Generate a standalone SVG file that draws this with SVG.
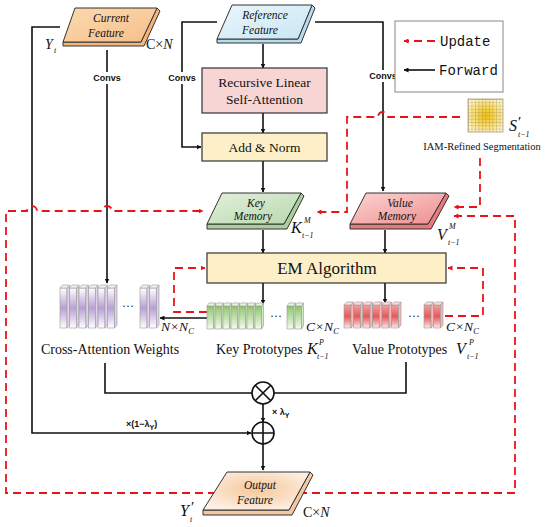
<svg xmlns="http://www.w3.org/2000/svg" width="550" height="527" viewBox="0 0 550 527">
<defs>
<style>
.ser{font-family:"Liberation Serif","Times New Roman",serif;fill:#111}
.it{font-style:italic}
.sm{font-size:8px}
.conv{font-family:"Liberation Sans",Arial,sans-serif;font-weight:bold;font-size:9px;fill:#111}
.blk{fill:none;stroke:#111;stroke-width:1.6}
.red{fill:none;stroke:#e8141a;stroke-width:1.8;stroke-dasharray:8,5}
.box{stroke:#333;stroke-width:1.2}
.face{stroke:#333;stroke-width:1}
.bar{stroke:#999;stroke-width:0.6}
.mono{font-family:"Liberation Mono","Courier New",monospace;font-size:14px;fill:#111}
</style>
<marker id="ab" viewBox="0 0 10 10" refX="9" refY="5" markerWidth="5" markerHeight="5" orient="auto-start-reverse" markerUnits="userSpaceOnUse"><path d="M0,0 L10,5 L0,10 z" fill="#111"/></marker>
<marker id="ar" viewBox="0 0 10 10" refX="9" refY="5" markerWidth="5" markerHeight="5" orient="auto-start-reverse" markerUnits="userSpaceOnUse"><path d="M0,0 L10,5 L0,10 z" fill="#e8141a"/></marker>
<linearGradient id="gCur" x1="0" y1="0" x2="1" y2="1"><stop offset="0" stop-color="#fbd9b0"/><stop offset="1" stop-color="#f6c08a"/></linearGradient>
<linearGradient id="gRef" x1="0" y1="0" x2="1" y2="1"><stop offset="0" stop-color="#eaf6fc"/><stop offset="1" stop-color="#c9e6f3"/></linearGradient>
<linearGradient id="gKey" x1="0" y1="0" x2="1" y2="1"><stop offset="0" stop-color="#e2f0dc"/><stop offset="1" stop-color="#b7d8ad"/></linearGradient>
<linearGradient id="gVal" x1="0" y1="0" x2="1" y2="1"><stop offset="0" stop-color="#fbd3d3"/><stop offset="1" stop-color="#ef8f8f"/></linearGradient>
<radialGradient id="gOut" cx="0.5" cy="0.45" r="0.6"><stop offset="0" stop-color="#f6c79a"/><stop offset="1" stop-color="#fdf0e4"/></radialGradient>
<radialGradient id="gGrid" cx="0.5" cy="0.5" r="0.6"><stop offset="0" stop-color="#f2c000"/><stop offset="1" stop-color="#fff6cc"/></radialGradient>
<pattern id="pGrid" x="468" y="99" width="3.5" height="3.3" patternUnits="userSpaceOnUse"><path d="M0,0 H3.5 M0,0 V3.3" stroke="#8c7a50" stroke-width="0.5" fill="none"/></pattern>
<linearGradient id="gPur" x1="0" y1="0" x2="0" y2="1"><stop offset="0" stop-color="#ffffff"/><stop offset="0.5" stop-color="#b9a0d4"/><stop offset="1" stop-color="#ffffff"/></linearGradient>
<linearGradient id="gGrn" x1="0" y1="0" x2="0" y2="1"><stop offset="0" stop-color="#8cc56a"/><stop offset="1" stop-color="#f4faee"/></linearGradient>
<linearGradient id="gRed" x1="0" y1="0" x2="0" y2="1"><stop offset="0" stop-color="#f6a0a0"/><stop offset="0.5" stop-color="#e25a5a"/><stop offset="1" stop-color="#fde6e6"/></linearGradient>
<g id="barP"><rect class="bar" x="0" y="3" width="7" height="40" fill="url(#gPur)"/><path class="bar" d="M7,3 L9.5,0 V40 L7,43 z" fill="#ddd3ea"/><path class="bar" d="M0,3 L2.5,0 H9.5 L7,3 z" fill="#f4f0f8"/></g>
<g id="barG"><rect class="bar" x="0" y="3" width="6.5" height="23" fill="url(#gGrn)"/><path class="bar" d="M6.5,3 L8.5,0 V23 L6.5,26 z" fill="#cfe6c0"/><path class="bar" d="M0,3 L2,0 H8.5 L6.5,3 z" fill="#e8f4e0"/></g>
<g id="barR"><rect class="bar" x="0" y="3" width="7" height="23" fill="url(#gRed)"/><path class="bar" d="M7,3 L9.5,0 V23 L7,26 z" fill="#f2b8b8"/><path class="bar" d="M0,3 L2.5,0 H9.5 L7,3 z" fill="#fadcdc"/></g>
</defs>
<rect width="550" height="527" fill="#fff"/>

<g id="connectors">
<path class="blk" d="M60,27 H32 V433 H251" marker-end="url(#ab)"/>
<path class="blk" d="M107,50 V283" marker-end="url(#ab)"/>
<path class="blk" d="M217,22 H182 V147 H201" marker-end="url(#ab)"/>
<path class="blk" d="M315,22 H383 V191" marker-end="url(#ab)"/>
<path class="blk" d="M263,44 V68" marker-end="url(#ab)"/>
<path class="blk" d="M263,113 V133" marker-end="url(#ab)"/>
<path class="blk" d="M263,161 V192" marker-end="url(#ab)"/>
<path class="blk" d="M263,230 V253" marker-end="url(#ab)"/>
<path class="blk" d="M385,230 V253" marker-end="url(#ab)"/>
<path class="blk" d="M263,283 V304" marker-end="url(#ab)"/>
<path class="blk" d="M385,283 V303" marker-end="url(#ab)"/>
<path class="blk" d="M207,318 H160" marker-end="url(#ab)"/>
<path class="blk" d="M105,363 V393 H252"/>
<path class="blk" d="M406,362 V393 H274"/>
<path class="blk" d="M263,404 V422" marker-end="url(#ab)"/>
<path class="blk" d="M263,444 V470" marker-end="url(#ab)"/>
<path class="red" d="M460,117 H388 A5,5 0 0 0 378,117 H347 V212 H317" marker-end="url(#ar)"/>
<path class="red" d="M480,158 V207 H454" marker-end="url(#ar)"/>
<path class="red" d="M454,216 H515 V493 H6 V211 H27 A5,5 0 0 1 37,211 H102 A5,5 0 0 1 112,211 H203" marker-start="url(#ar)" marker-end="url(#ar)"/>
<path class="red" d="M207,312 H174 V268 H205" marker-end="url(#ar)"/>
<path class="red" d="M445,316 H483 V268 H448" marker-end="url(#ar)"/>
</g>

<g id="convs-labels">
<rect x="92" y="72" width="30" height="12" fill="#fff"/><text class="conv" x="107" y="81" text-anchor="middle">Convs</text>
<rect x="167" y="72" width="30" height="12" fill="#fff"/><text class="conv" x="182" y="81" text-anchor="middle">Convs</text>
<rect x="368" y="70" width="30" height="12" fill="#fff"/><text class="conv" x="383" y="79" text-anchor="middle">Convs</text>
</g>

<g id="legend">
<rect x="395" y="21" width="108" height="71" fill="#fff" stroke="#888" stroke-width="1"/>
<path class="red" d="M435,41 H404" stroke-dasharray="6,4" marker-end="url(#ar)"/>
<text class="mono" x="440" y="46">Update</text>
<path class="blk" d="M435,70 H404" marker-end="url(#ab)"/>
<text class="mono" x="439" y="75">Forward</text>
</g>

<g id="current-feature">
<path class="face" d="M63,42 H141 L157,8 L160,11 L144,46 H63 z" fill="#f3b57a"/>
<path class="face" d="M75,8 H157 L141,42 H63 z" fill="url(#gCur)"/>
<text class="ser it" x="111" y="22" font-size="11.5" text-anchor="middle">Current</text>
<text class="ser it" x="106" y="37" font-size="11.5" text-anchor="middle">Feature</text>
<text class="ser it" x="45" y="49" font-size="14">Y</text>
<text class="ser it sm" x="54" y="53">t</text>
<text class="ser" x="146" y="49" font-size="14">C×<tspan class="it">N</tspan></text>
</g>

<g id="reference-feature">
<path class="face" d="M217,39 H298 L312,5 L315,8 L301,43 H217 z" fill="#b6dcee"/>
<path class="face" d="M232,5 H312 L298,39 H217 z" fill="url(#gRef)"/>
<text class="ser it" x="265" y="19" font-size="11.5" text-anchor="middle">Reference</text>
<text class="ser it" x="260" y="34" font-size="11.5" text-anchor="middle">Feature</text>
</g>

<g id="rlsa">
<rect class="box" x="202" y="68" width="125" height="45" fill="#f8d5d5"/>
<text class="ser" x="264.5" y="87" font-size="13.5" text-anchor="middle">Recursive Linear</text>
<text class="ser" x="264.5" y="104" font-size="13.5" text-anchor="middle">Self-Attention</text>
</g>

<g id="add-norm">
<rect class="box" x="202" y="133" width="125" height="28" fill="#fdf0c8"/>
<text class="ser" x="264.5" y="152" font-size="13.5" text-anchor="middle">Add &amp; Norm</text>
</g>

<g id="iam">
<rect x="468" y="99" width="35" height="33" fill="url(#gGrid)"/>
<rect x="468" y="99" width="35" height="33" fill="url(#pGrid)" stroke="#8c7a50" stroke-width="0.6"/>
<text class="ser it" x="509" y="131" font-size="16">S</text>
<text class="ser" x="518" y="127" font-size="15">′</text>
<text class="ser it sm" x="518" y="137">t−1</text>
<text class="ser" x="482" y="150" font-size="10.5" text-anchor="middle">IAM-Refined Segmentation</text>
</g>

<g id="key-memory">
<path class="face" d="M207,224 H284 L301,193 L304,196 L287,229 H207 z" fill="#a9cf9c"/>
<path class="face" d="M222,193 H301 L284,224 H207 z" fill="url(#gKey)"/>
<text class="ser it" x="256" y="207" font-size="11.5" text-anchor="middle">Key</text>
<text class="ser it" x="253" y="220" font-size="11.5" text-anchor="middle">Memory</text>
<text class="ser it" x="291" y="233" font-size="16">K</text>
<text class="ser it sm" x="304" y="223">M</text>
<text class="ser it sm" x="302" y="238">t−1</text>
</g>

<g id="value-memory">
<path class="face" d="M350,224 H428 L446,193 L449,196 L431,229 H350 z" fill="#e57a7a"/>
<path class="face" d="M366,193 H446 L428,224 H350 z" fill="url(#gVal)"/>
<text class="ser it" x="400" y="207" font-size="11.5" text-anchor="middle">Value</text>
<text class="ser it" x="397" y="220" font-size="11.5" text-anchor="middle">Memory</text>
<text class="ser it" x="437" y="240" font-size="16">V</text>
<text class="ser it sm" x="449" y="229">M</text>
<text class="ser it sm" x="448" y="245">t−1</text>
</g>

<g id="em">
<rect class="box" x="207" y="253" width="239" height="30" fill="#fdf0c8"/>
<text class="ser" x="327" y="274" font-size="17" text-anchor="middle">EM Algorithm</text>
</g>

<g id="cross-attention">
<use href="#barP" x="60" y="285"/><use href="#barP" x="69.5" y="285"/><use href="#barP" x="79" y="285"/><use href="#barP" x="88.5" y="285"/><use href="#barP" x="98" y="285"/><use href="#barP" x="107.5" y="285"/>
<text class="ser" x="128" y="310" font-size="12" text-anchor="middle">···</text>
<use href="#barP" x="140" y="285"/><use href="#barP" x="149.5" y="285"/>
<text class="ser it" x="161" y="331" font-size="13.5">N×N<tspan font-size="8.5" dy="3">C</tspan></text>
<text class="ser" x="110" y="354" font-size="14" text-anchor="middle">Cross-Attention Weights</text>
</g>

<g id="key-prototypes">
<use href="#barG" x="207" y="303"/><use href="#barG" x="215" y="303"/><use href="#barG" x="223" y="303"/><use href="#barG" x="231" y="303"/><use href="#barG" x="239" y="303"/><use href="#barG" x="247" y="303"/><use href="#barG" x="255" y="303"/>
<text class="ser" x="276" y="320" font-size="12" text-anchor="middle">···</text>
<use href="#barG" x="287" y="303"/><use href="#barG" x="295" y="303"/>
<text class="ser it" x="306" y="331" font-size="13.5">C×N<tspan font-size="8.5" dy="3">C</tspan></text>
<text class="ser" x="216" y="354" font-size="14">Key Prototypes</text>
<text class="ser it" x="307" y="354" font-size="16">K</text>
<text class="ser it sm" x="319" y="345">P</text>
<text class="ser it sm" x="317" y="359">t−1</text>
</g>

<g id="value-prototypes">
<use href="#barR" x="344" y="302"/><use href="#barR" x="353.5" y="302"/><use href="#barR" x="363" y="302"/><use href="#barR" x="372.5" y="302"/><use href="#barR" x="382" y="302"/><use href="#barR" x="391.5" y="302"/>
<text class="ser" x="414" y="320" font-size="12" text-anchor="middle">···</text>
<use href="#barR" x="424" y="302"/><use href="#barR" x="433.5" y="302"/>
<text class="ser it" x="446" y="331" font-size="13.5">C×N<tspan font-size="8.5" dy="3">C</tspan></text>
<text class="ser" x="352" y="354" font-size="14">Value Prototypes</text>
<text class="ser it" x="456" y="354" font-size="16">V</text>
<text class="ser it sm" x="469" y="345">P</text>
<text class="ser it sm" x="467" y="359">t−1</text>
</g>

<g id="multiply">
<circle cx="263" cy="393" r="11" fill="#fff" stroke="#111" stroke-width="1.6"/>
<path d="M255.2,385.2 L270.8,400.8 M270.8,385.2 L255.2,400.8" stroke="#111" stroke-width="1.6"/>
<text class="conv" x="272" y="415" font-size="10">× λ<tspan font-size="7" dy="3">Y</tspan></text>
</g>

<g id="add">
<circle cx="263" cy="433" r="11" fill="#fff" stroke="#111" stroke-width="1.6"/>
<path d="M252,433 H274 M263,422 V444" stroke="#111" stroke-width="1.6"/>
<text class="conv" x="126" y="427" font-size="10">×(1−λ<tspan font-size="7" dy="3">Y</tspan><tspan dy="-3">)</tspan></text>
</g>

<g id="output-feature">
<path class="face" d="M203,510 H289 L310,472 L313,475 L292,515 H203 z" fill="#f2c9a0"/>
<path class="face" d="M227,472 H310 L289,510 H203 z" fill="url(#gOut)"/>
<text class="ser it" x="260" y="489" font-size="11.5" text-anchor="middle">Output</text>
<text class="ser it" x="255" y="504" font-size="11.5" text-anchor="middle">Feature</text>
<text class="ser it" x="180" y="516" font-size="16">Y</text>
<text class="ser" x="191" y="512" font-size="15">′</text>
<text class="ser it sm" x="190" y="522">t</text>
<text class="ser" x="303" y="517" font-size="14">C×<tspan class="it">N</tspan></text>
</g>
</svg>
